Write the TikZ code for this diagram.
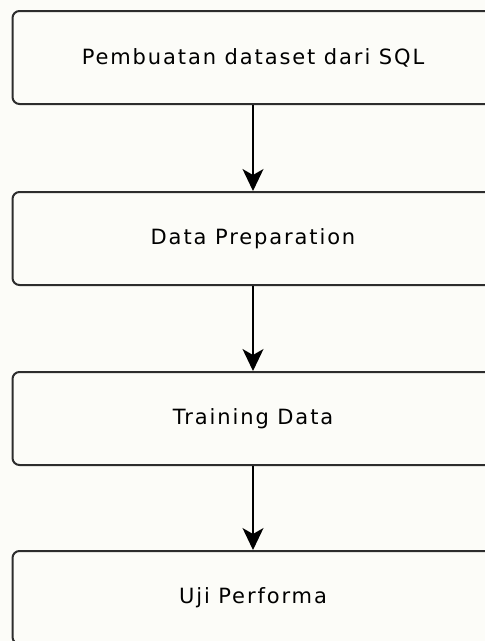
\documentclass[tikz,border=0pt]{standalone}
\usepackage{fontspec}
\setmainfont{DejaVu Sans}[LetterSpace=9]
\usetikzlibrary{arrows.meta}
\definecolor{paper}{RGB}{252,252,248}
\definecolor{edge}{RGB}{45,45,45}
\tikzset{
  stepbox/.style={draw=edge, line width=2pt, rounded corners=7pt, fill=paper,
    minimum width=481pt, minimum height=93pt, inner sep=0pt,
    font=\fontsize{21pt}{25pt}\selectfont},
  flow/.style={line width=1.4pt, -{Stealth[length=22pt,width=21pt,inset=6pt]}}
}
\begin{document}
\begin{tikzpicture}[x=1pt,y=1pt]
  \fill[paper] (0,0) rectangle (485,-641);
  \useasboundingbox (0,0) rectangle (485,-641);
  \node[stepbox] (b1) at (253,-57.5)  {Pembuatan dataset dari SQL};
  \node[stepbox] (b2) at (253,-238.5) {Data Preparation};
  \node[stepbox] (b3) at (253,-418.5) {Training Data};
  \node[stepbox] (b4) at (253,-597.5) {Uji Performa};
  \draw[flow] (b1) -- (b2);
  \draw[flow] (b2) -- (b3);
  \draw[flow] (b3) -- (b4);
\end{tikzpicture}
\end{document}
